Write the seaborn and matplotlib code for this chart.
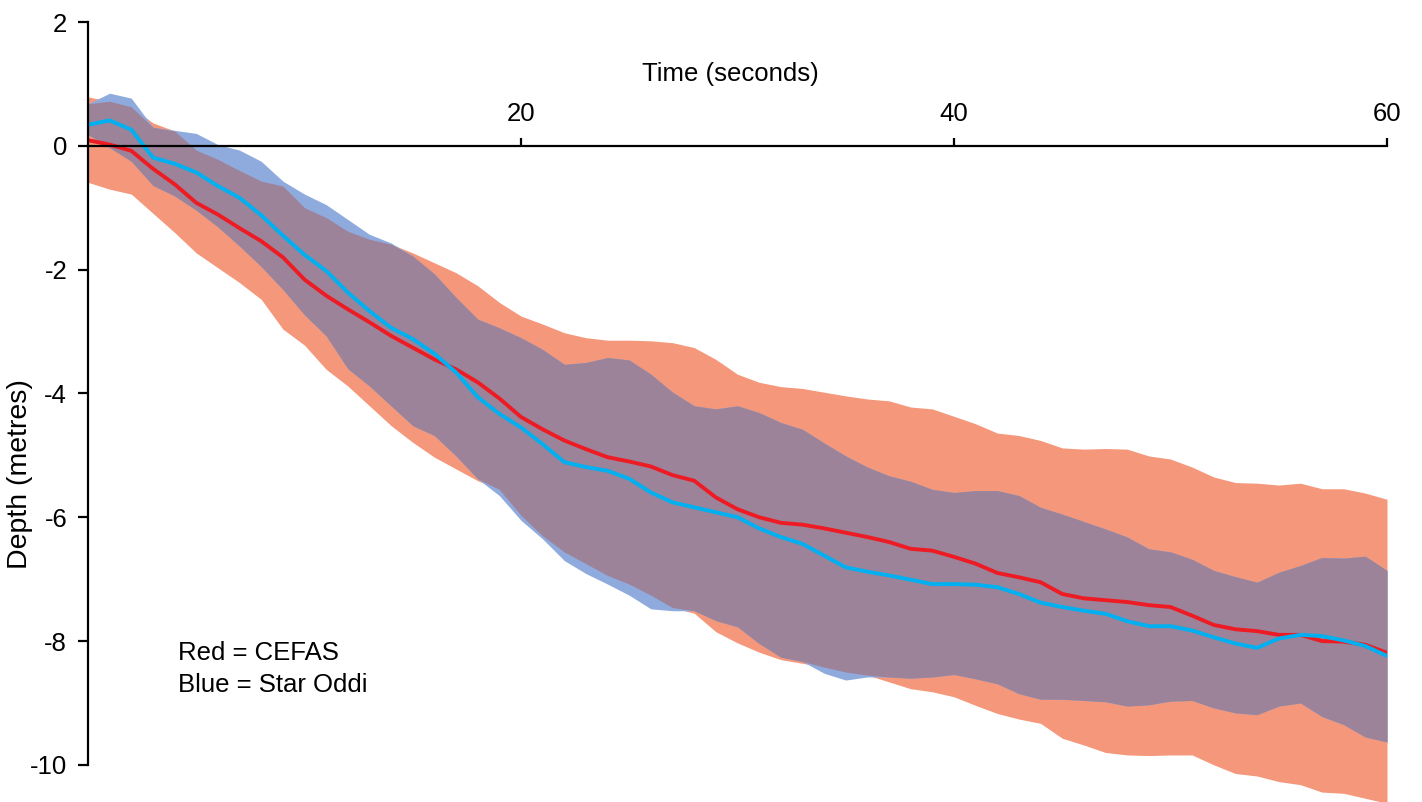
import numpy as np
import matplotlib
matplotlib.use("Agg")
import matplotlib.pyplot as plt
import seaborn as sns

# time in seconds, one reading per second
time_s = list(range(61))

# CEFAS tag (red): mean depth and band limits (metres)
cefas_mean = [0.09, 0.02, -0.08, -0.37, -0.62, -0.92, -1.11, -1.33, -1.54, -1.80,
              -2.16, -2.42, -2.64, -2.85, -3.07, -3.26, -3.45, -3.61, -3.82, -4.08,
              -4.38, -4.58, -4.76, -4.90, -5.03, -5.10, -5.18, -5.32, -5.41, -5.68,
              -5.87, -6.00, -6.09, -6.12, -6.18, -6.25, -6.32, -6.40, -6.51, -6.54,
              -6.64, -6.75, -6.90, -6.97, -7.05, -7.24, -7.31, -7.34, -7.37, -7.42,
              -7.45, -7.59, -7.74, -7.81, -7.84, -7.90, -7.90, -8.00, -8.01, -8.06,
              -8.19]
cefas_hi = [0.79, 0.72, 0.63, 0.37, 0.24, -0.07, -0.22, -0.40, -0.57, -0.65,
            -1.00, -1.16, -1.38, -1.51, -1.59, -1.73, -1.89, -2.05, -2.26, -2.53,
            -2.75, -2.88, -3.02, -3.10, -3.14, -3.14, -3.15, -3.18, -3.26, -3.45,
            -3.69, -3.82, -3.89, -3.92, -3.98, -4.04, -4.09, -4.12, -4.22, -4.25,
            -4.37, -4.49, -4.64, -4.68, -4.76, -4.88, -4.90, -4.89, -4.90, -5.01,
            -5.06, -5.19, -5.35, -5.44, -5.45, -5.48, -5.45, -5.54, -5.54, -5.61,
            -5.71]
cefas_lo = [-0.59, -0.70, -0.78, -1.09, -1.40, -1.73, -1.97, -2.21, -2.48, -2.96,
            -3.22, -3.61, -3.88, -4.20, -4.52, -4.79, -5.03, -5.22, -5.41, -5.55,
            -5.97, -6.30, -6.56, -6.75, -6.94, -7.08, -7.26, -7.46, -7.55, -7.85,
            -8.03, -8.18, -8.30, -8.36, -8.42, -8.50, -8.55, -8.66, -8.77, -8.82,
            -8.90, -9.04, -9.17, -9.26, -9.33, -9.57, -9.68, -9.80, -9.84, -9.85,
            -9.84, -9.84, -10.00, -10.14, -10.18, -10.27, -10.32, -10.44, -10.46, -10.54,
            -10.62]

# Star Oddi tag (blue)
oddi_mean = [0.34, 0.41, 0.26, -0.19, -0.29, -0.43, -0.65, -0.84, -1.12, -1.45,
             -1.76, -2.02, -2.37, -2.67, -2.94, -3.12, -3.36, -3.66, -4.06, -4.33,
             -4.55, -4.82, -5.11, -5.19, -5.25, -5.38, -5.60, -5.76, -5.84, -5.92,
             -6.00, -6.18, -6.32, -6.43, -6.62, -6.81, -6.88, -6.94, -7.01, -7.08,
             -7.08, -7.09, -7.13, -7.24, -7.38, -7.45, -7.51, -7.56, -7.68, -7.76,
             -7.76, -7.83, -7.94, -8.04, -8.11, -7.96, -7.90, -7.92, -7.99, -8.08,
             -8.24]
oddi_hi = [0.68, 0.85, 0.77, 0.30, 0.25, 0.20, 0.02, -0.07, -0.25, -0.57,
           -0.78, -0.95, -1.19, -1.43, -1.57, -1.78, -2.07, -2.45, -2.80, -2.94,
           -3.10, -3.29, -3.53, -3.50, -3.42, -3.46, -3.69, -3.98, -4.20, -4.25,
           -4.20, -4.31, -4.47, -4.58, -4.80, -5.01, -5.19, -5.33, -5.42, -5.55,
           -5.60, -5.57, -5.57, -5.65, -5.84, -5.95, -6.07, -6.19, -6.32, -6.51,
           -6.56, -6.68, -6.86, -6.96, -7.05, -6.89, -6.78, -6.65, -6.66, -6.63,
           -6.86]
oddi_lo = [0.18, -0.03, -0.25, -0.64, -0.81, -1.04, -1.31, -1.62, -1.95, -2.32,
           -2.73, -3.07, -3.60, -3.88, -4.20, -4.52, -4.68, -5.01, -5.38, -5.65,
           -6.05, -6.35, -6.70, -6.91, -7.08, -7.26, -7.48, -7.51, -7.51, -7.67,
           -7.77, -8.04, -8.26, -8.33, -8.52, -8.63, -8.58, -8.58, -8.60, -8.58,
           -8.54, -8.61, -8.69, -8.85, -8.94, -8.94, -8.96, -8.98, -9.05, -9.03,
           -8.97, -8.96, -9.08, -9.16, -9.19, -9.05, -9.00, -9.22, -9.35, -9.55,
           -9.63]

yticks = [-10, -8, -6, -4, -2, 0, 2]
xticks = [20, 40, 60]

sns.set_style("white")
plt.rcParams["font.family"] = ["Liberation Sans", "DejaVu Sans"]
plt.rcParams["axes.unicode_minus"] = False
plt.rcParams["text.color"] = "black"
plt.rcParams["axes.labelcolor"] = "black"
FS = 18.5

fig = plt.figure(figsize=(14.22, 8.02), dpi=100)
ax = fig.add_axes([88 / 1422, 0.0, 1299 / 1422, 780 / 802])

t = np.array(time_s)
c_lo, c_hi = np.array(cefas_lo), np.array(cefas_hi)
o_lo, o_hi = np.array(oddi_lo), np.array(oddi_hi)

# bands: red, blue, and where they overlap
ax.fill_between(t, c_lo, c_hi, color="#F4977A", lw=0, zorder=1)
ax.fill_between(t, o_lo, o_hi, color="#8FAADC", lw=0, zorder=2)
ov_lo = np.maximum(c_lo, o_lo)
ov_hi = np.minimum(c_hi, o_hi)
ax.fill_between(t, ov_lo, ov_hi, where=ov_hi > ov_lo, interpolate=True,
                color="#9C8399", lw=0, zorder=3)

sns.lineplot(x=t, y=cefas_mean, color="#ED1C24", lw=2.8, ax=ax, zorder=5)
sns.lineplot(x=t, y=oddi_mean, color="#00B0F0", lw=2.8, ax=ax, zorder=6)

ax.set_xlim(0, 60)
ax.set_ylim(-10.6, 2)

# axes: x axis runs along depth 0 with labels above it
for s in ["right", "bottom"]:
    ax.spines[s].set_visible(False)
ax.spines["top"].set_position(("data", 0))
ax.spines["left"].set_bounds(-10, 2)
for s in ["top", "left"]:
    ax.spines[s].set_color("black")
    ax.spines[s].set_linewidth(1.6)
    ax.spines[s].set_zorder(7)

ax.xaxis.tick_top()
ax.set_xticks(xticks)
ax.set_xticklabels([str(v) for v in xticks])
ax.set_yticks(yticks)
ax.set_yticklabels([str(v) for v in yticks])
ax.tick_params(axis="x", which="both", top=True, bottom=False, labeltop=True,
               labelbottom=False, direction="out", length=6, width=1.6, pad=8,
               labelsize=FS, color="black", labelcolor="black")
ax.tick_params(axis="y", which="both", left=True, right=False, direction="out",
               length=7, width=1.6, pad=8, labelsize=FS, color="black",
               labelcolor="black")

ax.set_xlabel("Time (seconds)", fontsize=FS, color="black")
ax.xaxis.set_label_position("top")
ax.xaxis.set_label_coords((730 - 88) / 1299, (802 - 81) / 780)
ax.set_ylabel("Depth (metres)", fontsize=20.5, color="black")
ax.yaxis.set_label_coords((33 - 88) / 1299, (802 - 474) / 780)

ax.text((178 - 88) / 1299, (802 - 660) / 780, "Red = CEFAS", fontsize=FS,
        color="black", transform=ax.transAxes, va="baseline", ha="left")
ax.text((178 - 88) / 1299, (802 - 692) / 780, "Blue = Star Oddi", fontsize=FS,
        color="black", transform=ax.transAxes, va="baseline", ha="left")

ax.grid(False)
fig.savefig("out.png", dpi=100)
